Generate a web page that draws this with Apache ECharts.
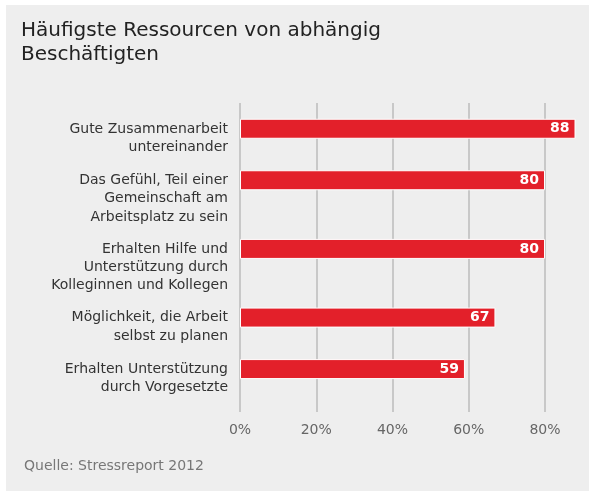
<!DOCTYPE html>
<html>
<head>
<meta charset="utf-8">
<script src="https://cdn.jsdelivr.net/npm/echarts@6/dist/echarts.min.js"></script>
<style>
  html, body { margin: 0; padding: 0; background: #fff; }
  #chart { width: 589px; height: 494px; }
</style>
</head>
<body>
<div id="chart"></div>
<script>
const titleText = 'Häufigste Ressourcen von abhängig\nBeschäftigten'
const sourceText = 'Quelle: Stressreport 2012'

const categories = [
  'Gute Zusammenarbeit\nuntereinander',
  'Das Gefühl, Teil einer\nGemeinschaft am\nArbeitsplatz zu sein',
  'Erhalten Hilfe und\nUnterstützung durch\nKolleginnen und Kollegen',
  'Möglichkeit, die Arbeit\nselbst zu planen',
  'Erhalten Unterstützung\ndurch Vorgesetzte'
]
const values = [88, 80, 80, 67, 59]
const xTicks = [0, 20, 40, 60, 80]

const fontFamily = 'DejaVu Sans, Verdana, sans-serif'

// rows are spaced by the number of label lines, so build slots:
// one empty slot on top, then each bar followed by one slot per label line
const slotNames = ['_pad']
const slotValues = ['-']
categories.forEach((c, i) => {
  slotNames.push(c)
  slotValues.push(values[i])
  const lines = c.split('\n').length
  for (let k = 0; k < lines; k++) {
    slotNames.push('_' + i + '_' + k)
    slotValues.push('-')
  }
})

const chart = echarts.init(document.getElementById('chart'))

chart.setOption({
  backgroundColor: '#ffffff',
  animation: false,
  graphic: [
    {
      type: 'rect',
      z: -10,
      shape: { x: 6, y: 5, width: 583, height: 486 },
      style: { fill: '#eeeeee' }
    },
    {
      type: 'text',
      left: 24,
      top: 459,
      style: {
        text: sourceText,
        fill: '#777777',
        font: '14px ' + fontFamily
      }
    }
  ],
  title: {
    text: titleText,
    left: 16,
    top: 14,
    textStyle: {
      fontFamily: fontFamily,
      fontSize: 20,
      fontWeight: 'normal',
      color: '#222222',
      lineHeight: 24
    }
  },
  grid: {
    left: 240,
    right: 44,
    top: 103,
    bottom: 82
  },
  xAxis: {
    type: 'value',
    min: xTicks[0],
    max: xTicks[xTicks.length - 1],
    interval: 20,
    axisLine: { show: false },
    axisTick: { show: false },
    splitLine: {
      lineStyle: { color: '#c8c8c8', width: 2 }
    },
    axisLabel: {
      formatter: '{value}%',
      color: '#666666',
      fontFamily: fontFamily,
      fontSize: 14,
      margin: 11
    }
  },
  yAxis: {
    type: 'category',
    inverse: true,
    data: slotNames,
    axisLine: { show: false },
    axisTick: { show: false },
    axisLabel: {
      interval: 0,
      formatter: v => (v.charAt(0) === '_' ? '' : v),
      align: 'right',
      verticalAlign: 'top',
      padding: [-9, 0, 0, 0],
      lineHeight: 18.3,
      margin: 12,
      color: '#333333',
      fontFamily: fontFamily,
      fontSize: 14
    }
  },
  series: [
    {
      type: 'bar',
      data: slotValues,
      barWidth: 20,
      clip: false,
      itemStyle: {
        color: '#e3202a',
        borderColor: '#ffffff',
        borderWidth: 1
      },
      label: {
        show: true,
        position: 'insideRight',
        distance: 6,
        color: '#ffffff',
        fontWeight: 'bold',
        fontFamily: fontFamily,
        fontSize: 14
      }
    }
  ]
})
</script>
</body>
</html>
